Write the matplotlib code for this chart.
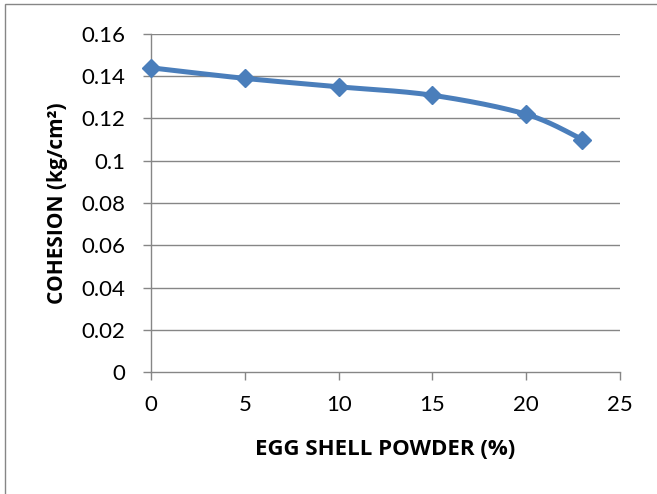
import numpy as np
import matplotlib
matplotlib.use("Agg")
import matplotlib.pyplot as plt
from matplotlib.patches import Rectangle

plt.rcParams['font.family'] = ['Lato', 'DejaVu Sans']

esp = [0, 5, 10, 15, 20, 23]
cohesion = [0.144, 0.139, 0.135, 0.131, 0.122, 0.110]
xticks = [0, 5, 10, 15, 20, 25]
yticks = [0, 0.02, 0.04, 0.06, 0.08, 0.1, 0.12, 0.14, 0.16]
ytick_labels = ['0', '0.02', '0.04', '0.06', '0.08', '0.1', '0.12', '0.14', '0.16']

def smooth(xs, ys, n=30):
    # Excel-style smoothed line: cubic Bezier with Catmull-Rom control points
    xs = np.asarray(xs, float); ys = np.asarray(ys, float)
    px = np.concatenate([[xs[0]], xs, [xs[-1]]])
    py = np.concatenate([[ys[0]], ys, [ys[-1]]])
    outx, outy = [], []
    t = np.linspace(0, 1, n)
    for i in range(1, len(px) - 2):
        p0 = np.array([px[i], py[i]]); p3 = np.array([px[i+1], py[i+1]])
        c1 = p0 + (np.array([px[i+1], py[i+1]]) - np.array([px[i-1], py[i-1]])) / 6
        c2 = p3 - (np.array([px[i+2], py[i+2]]) - np.array([px[i], py[i]])) / 6
        b = ((1-t)**3)[:, None]*p0 + (3*(1-t)**2*t)[:, None]*c1 + (3*(1-t)*t**2)[:, None]*c2 + (t**3)[:, None]*p3
        outx.extend(b[:, 0]); outy.extend(b[:, 1])
    return outx, outy

fig = plt.figure(figsize=(6.57, 4.94), dpi=100)
fig.patches.append(Rectangle((5/657, -0.1), 1.2, (494-4)/494 + 0.1, transform=fig.transFigure,
                             fill=False, edgecolor='#868686', linewidth=1.0))
ax = fig.add_axes([151/657, 122/494, 469/657, 338/494])

for y in yticks[1:]:
    ax.axhline(y, color='#868686', linewidth=1.0, zorder=1)

sx, sy = smooth(esp, cohesion)
ax.plot(sx, sy, color='#4A7EBB', linewidth=3.6, solid_capstyle='round', zorder=3, clip_on=False)
ax.plot(esp, cohesion, linestyle='none', marker='D', markersize=9.5,
        color='#4A7EBB', markeredgecolor='#4A7EBB', zorder=4, clip_on=False)

ax.set_xlim(0, 25)
ax.set_ylim(0, 0.16)
ax.set_xticks(xticks)
ax.set_xticklabels([str(v) for v in xticks])
ax.set_yticks(yticks)
ax.set_yticklabels(ytick_labels)
for s in ['top', 'right']:
    ax.spines[s].set_visible(False)
for s in ['left', 'bottom']:
    ax.spines[s].set_color('#868686')
    ax.spines[s].set_linewidth(1.0)
ax.tick_params(axis='both', direction='out', length=5.8, color='#868686', width=1.0,
               labelsize=16, labelcolor='black')
ax.tick_params(axis='x', pad=11)
ax.tick_params(axis='y', pad=13)

lab_font = ['Open Sans', 'DejaVu Sans']
ax.set_xlabel('EGG SHELL POWDER (%)', fontsize=16, fontweight='bold', family=lab_font)
ax.xaxis.set_label_coords(0.5, (372 - 449) / 338)
ax.xaxis.label.set_verticalalignment('center')
ax.set_ylabel('COHESION (kg/cm²)', fontsize=15, fontweight='bold', family=lab_font)
ax.yaxis.set_label_coords((57 - 151) / 469, 0.5)
ax.yaxis.label.set_verticalalignment('center')

fig.savefig('out.png', dpi=100, facecolor='white')
